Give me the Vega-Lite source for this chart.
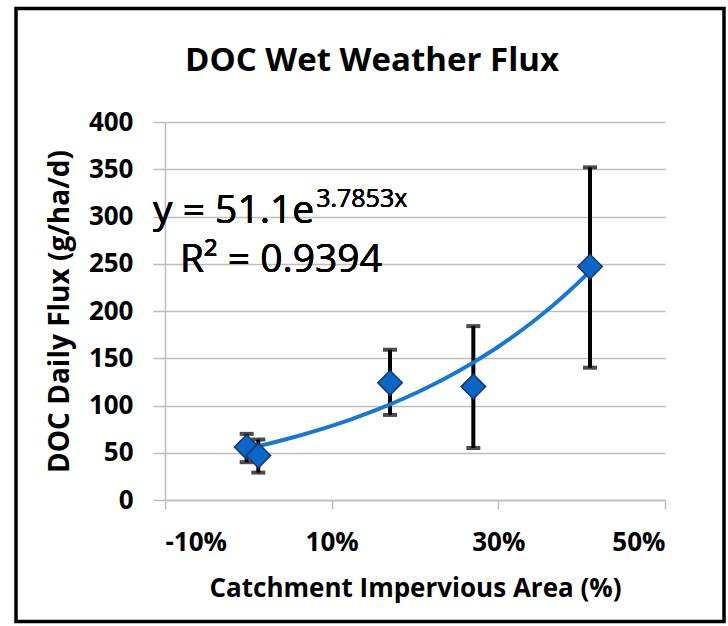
{
  "$schema": "https://vega.github.io/schema/vega-lite/v6.json",
  "width": 500,
  "height": 378,
  "autosize": {"type": "none"},
  "padding": {"left": 165, "top": 122, "right": 63, "bottom": 126},
  "background": "white",
  "title": {
    "text": "DOC Wet Weather Flux",
    "font": "Open Sans",
    "fontSize": 33,
    "fontWeight": "bold",
    "color": "black",
    "anchor": "middle",
    "frame": "group",
    "dx": -43,
    "offset": -69
  },
  "data": {
    "values": [
      {"x": -0.002, "y": 56, "lo": 40, "hi": 70},
      {"x": 0.012, "y": 47, "lo": 29, "hi": 64},
      {"x": 0.17, "y": 124, "lo": 90, "hi": 159},
      {"x": 0.27, "y": 120, "lo": 55, "hi": 184},
      {"x": 0.41, "y": 247, "lo": 140, "hi": 352}
    ]
  },
  "config": {
    "view": {"stroke": null},
    "axis": {
      "labelFont": "Open Sans",
      "labelFontSize": 26,
      "labelFontWeight": "bold",
      "labelColor": "black",
      "titleFont": "Open Sans",
      "titleFontSize": 26,
      "titleFontWeight": "bold",
      "titleColor": "black",
      "domainColor": "#bdbdbd",
      "domainWidth": 1.5,
      "tickColor": "#bdbdbd",
      "tickWidth": 1.5,
      "gridColor": "#bdbdbd",
      "gridWidth": 1.5
    },
    "axisX": {"grid": false, "tickSize": 9, "labelPadding": 20, "titlePadding": 20},
    "axisY": {"grid": true, "tickSize": 12, "labelPadding": 20, "titlePadding": 14, "titleFontSize": 28}
  },
  "layer": [
    {
      "mark": {"type": "errorbar", "ticks": true, "size": 14, "thickness": 4, "color": "black"},
      "encoding": {
        "x": {
          "field": "x", "type": "quantitative",
          "scale": {"domain": [-0.1, 0.5], "nice": false, "zero": false},
          "axis": {"values": [-0.1, 0.1, 0.3, 0.5], "labelExpr": "round(datum.value*100) + '%'"},
          "title": "Catchment Impervious Area (%)"
        },
        "y": {
          "field": "lo", "type": "quantitative",
          "scale": {"domain": [0, 400], "nice": false},
          "axis": {"values": [0, 50, 100, 150, 200, 250, 300, 350, 400]},
          "title": "DOC Daily Flux (g/ha/d)"
        },
        "y2": {"field": "hi"}
      }
    },
    {
      "transform": [{"regression": "y", "on": "x", "method": "exp", "extent": [0.012, 0.41]}],
      "mark": {"type": "line", "color": "#1778d2", "strokeWidth": 4},
      "encoding": {
        "x": {"field": "x", "type": "quantitative", "title": "Catchment Impervious Area (%)"},
        "y": {"field": "y", "type": "quantitative", "title": "DOC Daily Flux (g/ha/d)"}
      }
    },
    {
      "mark": {"type": "point", "shape": "diamond", "filled": true, "size": 600, "fill": "#0a66c8", "stroke": "#1b3766", "strokeWidth": 1.5, "opacity": 1},
      "encoding": {
        "x": {"field": "x", "type": "quantitative", "title": "Catchment Impervious Area (%)"},
        "y": {"field": "y", "type": "quantitative", "title": "DOC Daily Flux (g/ha/d)"}
      }
    },
    {
      "mark": {"type": "point", "opacity": 0, "size": 1},
      "encoding": {
        "x": {"field": "x", "type": "quantitative", "title": "Catchment Impervious Area (%)"},
        "y": {"field": "y", "type": "quantitative", "title": "DOC Daily Flux (g/ha/d)"},
        "color": {
          "datum": 1, "type": "quantitative",
          "scale": {"domain": [0, 1], "range": ["rgba(255,255,255,0)", "rgba(255,255,255,0)"]},
          "legend": {
            "orient": "none",
            "legendX": -149,
            "legendY": -113.5,
            "direction": "vertical",
            "title": null,
            "labelExpr": "''",
            "labelOpacity": 0,
            "labelFontSize": 1,
            "tickCount": 1,
            "padding": 0,
            "gradientLength": 613,
            "gradientThickness": 708,
            "gradientStrokeColor": "black",
            "gradientStrokeWidth": 3.5
          }
        }
      }
    },
    {
      "mark": {"type": "text", "text": "y = 51.1e", "align": "left", "baseline": "alphabetic", "font": "Open Sans", "fontSize": 39, "color": "black"},
      "encoding": {
        "x": {"datum": -0.1144, "type": "quantitative"},
        "y": {"datum": 293, "type": "quantitative"}
      }
    },
    {
      "mark": {"type": "text", "text": "3.7853x", "align": "left", "baseline": "alphabetic", "font": "Open Sans", "fontSize": 25, "color": "black"},
      "encoding": {
        "x": {"datum": 0.0814, "type": "quantitative"},
        "y": {"datum": 310, "type": "quantitative"}
      }
    },
    {
      "mark": {"type": "text", "text": "R² = 0.9394", "align": "left", "baseline": "alphabetic", "font": "Open Sans", "fontSize": 39, "color": "black"},
      "encoding": {
        "x": {"datum": -0.082, "type": "quantitative"},
        "y": {"datum": 241, "type": "quantitative"}
      }
    }
  ]
}
